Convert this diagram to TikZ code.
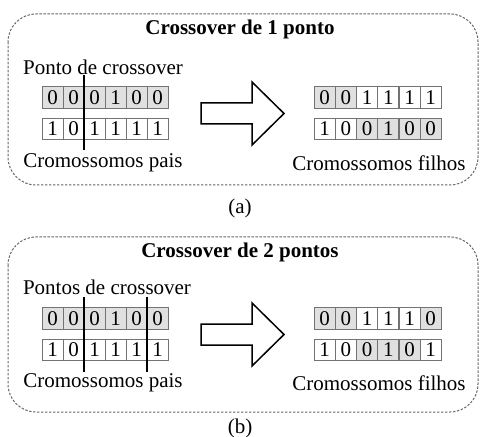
\documentclass[tikz,border=0pt]{standalone}
\usepackage{fontspec}
\setmainfont{Liberation Serif}
\colorlet{shd}{black!12}
\begin{document}
\begin{tikzpicture}
[
x=0.5pt,y=-0.5pt,
every node/.style={font=\fontsize{10.5}{12}\selectfont},
gene/.style={draw=black!55,line width=0.5pt,minimum width=10.5pt,minimum height=10.75pt,inner sep=0pt},
frame/.style={draw=black!60,dash pattern=on 1.2pt off 0.8pt,line width=0.5pt,rounded corners=14pt},
cut/.style={line width=0.75pt},
bigarrow/.style={draw,line width=0.75pt,line join=miter},
]
\useasboundingbox (0,0) rectangle (480,437);

%Crossover de 1 ponto
\draw[frame] (8,14) rectangle (478,185);
\node[font=\fontsize{10.5}{12}\selectfont\bfseries] (tA) at (240,29) {Crossover de 1 ponto};
\node (ptA) at (103,67) {Ponto de crossover};
\node (paisA) at (103,163) {Cromossomos pais};
\node (filA) at (379,163) {Cromossomos filhos};
\node (capA) at (240,208) {(a)};
%parents
\foreach \b/\c [count=\i] in {0/shd,0/shd,0/shd,1/shd,0/shd,0/shd}
  \node[gene,fill=\c] (pA1\i) at (31.5+21*\i,97.5) {\b};
\foreach \b/\c [count=\i] in {1/white,0/white,1/white,1/white,1/white,1/white}
  \node[gene,fill=\c] (pA2\i) at (31.5+21*\i,129) {\b};
%children
\foreach \b/\c [count=\i] in {0/shd,0/shd,1/white,1/white,1/white,1/white}
  \node[gene,fill=\c] (fA1\i) at (303.5+21.2*\i,97.5) {\b};
\foreach \b/\c [count=\i] in {1/white,0/white,0/shd,1/shd,0/shd,0/shd}
  \node[gene,fill=\c] (fA2\i) at (303.5+21.2*\i,129) {\b};
%cut point
\coordinate (cA1) at (84,75);
\coordinate (cA2) at (84,150);
\draw[cut] (cA1) -- (cA2);
%arrow
\draw[bigarrow] (201,103) -- (252,103) -- (252,82) -- (284,113.5) -- (252,145) -- (252,124) -- (201,124) -- cycle;

%Crossover de 2 pontos
\begin{scope}[shift={(0,221)}]
\draw[frame] (8,16) rectangle (478,191);
\node[font=\fontsize{10.5}{12}\selectfont\bfseries] (tB) at (240,31) {Crossover de 2 pontos};
\node (ptB) at (107,66) {Pontos de crossover};
\node (paisB) at (103,162) {Cromossomos pais};
\node (filB) at (379,162) {Cromossomos filhos};
\node (capB) at (240,207) {(b)};
%parents
\foreach \b/\c [count=\i] in {0/shd,0/shd,0/shd,1/shd,0/shd,0/shd}
  \node[gene,fill=\c] (pB1\i) at (31.5+21*\i,97.5) {\b};
\foreach \b/\c [count=\i] in {1/white,0/white,1/white,1/white,1/white,1/white}
  \node[gene,fill=\c] (pB2\i) at (31.5+21*\i,129) {\b};
%children
\foreach \b/\c [count=\i] in {0/shd,0/shd,1/white,1/white,1/white,0/shd}
  \node[gene,fill=\c] (fB1\i) at (303.5+21.2*\i,97.5) {\b};
\foreach \b/\c [count=\i] in {1/white,0/white,0/shd,1/shd,0/shd,1/white}
  \node[gene,fill=\c] (fB2\i) at (303.5+21.2*\i,129) {\b};
%cut points
\coordinate (cB1) at (84,76);
\coordinate (cB2) at (84,151);
\coordinate (cB3) at (147,76);
\coordinate (cB4) at (147,151);
\draw[cut] (cB1) -- (cB2);
\draw[cut] (cB3) -- (cB4);
%arrow
\draw[bigarrow] (201,103) -- (252,103) -- (252,82) -- (284,113.5) -- (252,145) -- (252,124) -- (201,124) -- cycle;
\end{scope}
\end{tikzpicture}
\end{document}
